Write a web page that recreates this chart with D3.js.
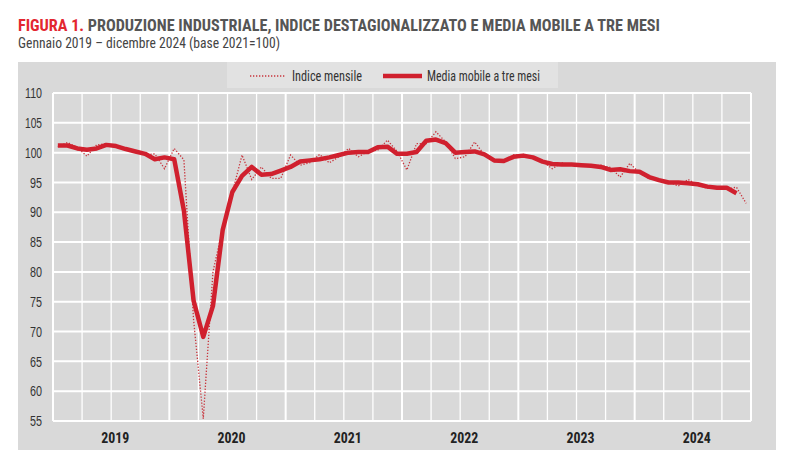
<!DOCTYPE html>
<html>
<head>
<meta charset="utf-8">
<script src="https://cdn.jsdelivr.net/npm/d3@7"></script>
<style>
  body { margin: 0; background: #fff; }
  svg { font-family: "Liberation Sans Narrow", "Arial Narrow", "Roboto Condensed", sans-serif; }
</style>
</head>
<body>
<svg id="chart"></svg>
<script>
// Data
const years = [2019, 2020, 2021, 2022, 2023, 2024];
const yTicks = [55, 60, 65, 70, 75, 80, 85, 90, 95, 100, 105, 110];

// Indice mensile (gen 2019 - dic 2024)
const indiceMensile = [
  101.0, 101.7, 100.9, 99.4, 101.3, 101.5, 101.0, 100.7, 100.2, 99.6, 99.8, 97.3,
  100.7, 98.8, 72.0, 55.4, 80.0, 87.3, 93.3, 99.6, 95.5, 97.6, 95.7, 95.7,
  99.6, 97.9, 98.3, 99.7, 98.3, 99.3, 100.7, 99.3, 100.2, 100.4, 102.1, 100.2,
  97.1, 101.5, 101.5, 103.5, 101.8, 99.0, 99.3, 101.8, 99.6, 98.5, 98.5, 99.6,
  99.6, 99.3, 98.5, 97.3, 98.3, 97.9, 97.8, 97.7, 97.9, 97.5, 95.9, 98.2,
  96.6, 95.6, 95.5, 95.1, 94.4, 95.5, 94.6, 94.0, 94.3, 93.9, 94.2, 91.5
];

// Media mobile a tre mesi (centrata, manca l'ultimo mese)
const mediaMobile = [
  101.2, 101.2, 100.7, 100.5, 100.7, 101.3, 101.1, 100.6, 100.2, 99.8, 98.9, 99.2,
  98.9, 90.3, 75.2, 69.1, 74.3, 87.0, 93.4, 96.1, 97.6, 96.3, 96.4, 97.0,
  97.6, 98.5, 98.7, 98.9, 99.2, 99.6, 100.0, 100.1, 100.1, 100.9, 101.0, 99.8,
  99.8, 100.1, 102.0, 102.2, 101.6, 100.0, 100.1, 100.2, 99.7, 98.7, 98.6, 99.3,
  99.5, 99.2, 98.5, 98.1, 98.0, 98.0, 97.9, 97.8, 97.6, 97.1, 97.2, 96.9,
  96.8, 95.9, 95.4, 95.0, 95.0, 94.85, 94.7, 94.3, 94.1, 94.1, 93.2, null
];

const months = d3.range(indiceMensile.length);

// Dimensions
const w = 800;
const h = 474;
const plot = { left: 53, right: 751, top: 93, bottom: 421 };

const svg = d3.select("#chart")
  .attr("width", w)
  .attr("height", h);

// Title
const title = svg.append("text")
  .attr("x", 18)
  .attr("y", 31)
  .attr("font-size", 16.5)
  .attr("font-weight", "bold")
  .attr("fill", "#555")
  .attr("textLength", 642)
  .attr("lengthAdjust", "spacingAndGlyphs");
title.append("tspan").attr("fill", "#e3262f").text("FIGURA 1. ");
title.append("tspan").text("PRODUZIONE INDUSTRIALE, INDICE DESTAGIONALIZZATO E MEDIA MOBILE A TRE MESI");

svg.append("text")
  .attr("x", 18)
  .attr("y", 48)
  .attr("font-size", 14.5)
  .attr("fill", "#444")
  .attr("textLength", 262)
  .attr("lengthAdjust", "spacingAndGlyphs")
  .text("Gennaio 2019 \u2013 dicembre 2024 (base 2021=100)");

// Grey panel
svg.append("rect")
  .attr("x", 18)
  .attr("y", 62)
  .attr("width", 758)
  .attr("height", 388)
  .attr("fill", "#d9d9d9");

// Scales
const x = d3.scaleBand()
  .domain(months)
  .range([plot.left, plot.right]);
const bw = x.bandwidth();
const cx = i => x(i) + bw / 2;

const y = d3.scaleLinear()
  .domain([55, 110])
  .range([plot.bottom, plot.top]);

// Horizontal grid
svg.append("g")
  .selectAll("line")
  .data(yTicks)
  .enter()
  .append("line")
  .attr("x1", plot.left)
  .attr("x2", plot.right)
  .attr("y1", d => y(d))
  .attr("y2", d => y(d))
  .attr("stroke", "#fff")
  .attr("stroke-width", 2);

// Vertical grid, every quarter, thicker at year start
const quarters = months.filter(i => i % 3 === 0).concat([months.length]);
svg.append("g")
  .selectAll("line")
  .data(quarters)
  .enter()
  .append("line")
  .attr("x1", d => d < months.length ? x(d) : plot.right)
  .attr("x2", d => d < months.length ? x(d) : plot.right)
  .attr("y1", plot.top)
  .attr("y2", plot.bottom)
  .attr("stroke", "#fff")
  .attr("stroke-width", d => (d % 12 === 0 ? 2 : 1.3));

// Y axis labels
const yAxis = d3.axisLeft(y).tickValues(yTicks).tickSize(0).tickPadding(11);
const yg = svg.append("g")
  .attr("transform", `translate(${plot.left},0)`)
  .call(yAxis);
yg.select(".domain").remove();
yg.selectAll("text")
  .attr("font-family", "\"Liberation Sans Narrow\", \"Arial Narrow\", sans-serif")
  .attr("font-size", 14.5)
  .attr("fill", "#333")
  .attr("textLength", d => (d >= 100 ? 17 : 12))
  .attr("lengthAdjust", "spacingAndGlyphs");

// Year labels
svg.append("g")
  .selectAll("text")
  .data(years)
  .enter()
  .append("text")
  .attr("x", (d, i) => x(i * 12) + 6 * bw + 4)
  .attr("y", 443)
  .attr("text-anchor", "middle")
  .attr("font-size", 14.5)
  .attr("font-weight", "bold")
  .attr("fill", "#222")
  .attr("textLength", 28)
  .attr("lengthAdjust", "spacingAndGlyphs")
  .text(d => d);

// Lines
const lineGen = d3.line()
  .defined(d => d != null)
  .x((d, i) => cx(i))
  .y(d => y(d));

svg.append("path")
  .datum(indiceMensile)
  .attr("fill", "none")
  .attr("stroke", "#c8343c")
  .attr("stroke-width", 1.3)
  .attr("stroke-dasharray", "1.3,1.7")
  .attr("d", lineGen);

svg.append("path")
  .datum(mediaMobile)
  .attr("fill", "none")
  .attr("stroke", "#d0202e")
  .attr("stroke-width", 4.5)
  .attr("stroke-linejoin", "round")
  .attr("d", lineGen);

// Legend
const legend = svg.append("g").attr("id", "legend");
legend.append("rect")
  .attr("x", 227)
  .attr("y", 62)
  .attr("width", 331)
  .attr("height", 26)
  .attr("fill", "#e2e2e2");

legend.append("line")
  .attr("x1", 250).attr("x2", 285)
  .attr("y1", 76).attr("y2", 76)
  .attr("stroke", "#c8343c")
  .attr("stroke-width", 1.3)
  .attr("stroke-dasharray", "1.3,1.7");
legend.append("text")
  .attr("x", 292)
  .attr("y", 80.5)
  .attr("font-size", 14)
  .attr("fill", "#333")
  .attr("textLength", 70)
  .attr("lengthAdjust", "spacingAndGlyphs")
  .text("Indice mensile");

legend.append("line")
  .attr("x1", 383).attr("x2", 422)
  .attr("y1", 76).attr("y2", 76)
  .attr("stroke", "#d0202e")
  .attr("stroke-width", 4.5);
legend.append("text")
  .attr("x", 427)
  .attr("y", 80.5)
  .attr("font-size", 14)
  .attr("fill", "#333")
  .attr("textLength", 113)
  .attr("lengthAdjust", "spacingAndGlyphs")
  .text("Media mobile a tre mesi");
</script>
</body>
</html>
